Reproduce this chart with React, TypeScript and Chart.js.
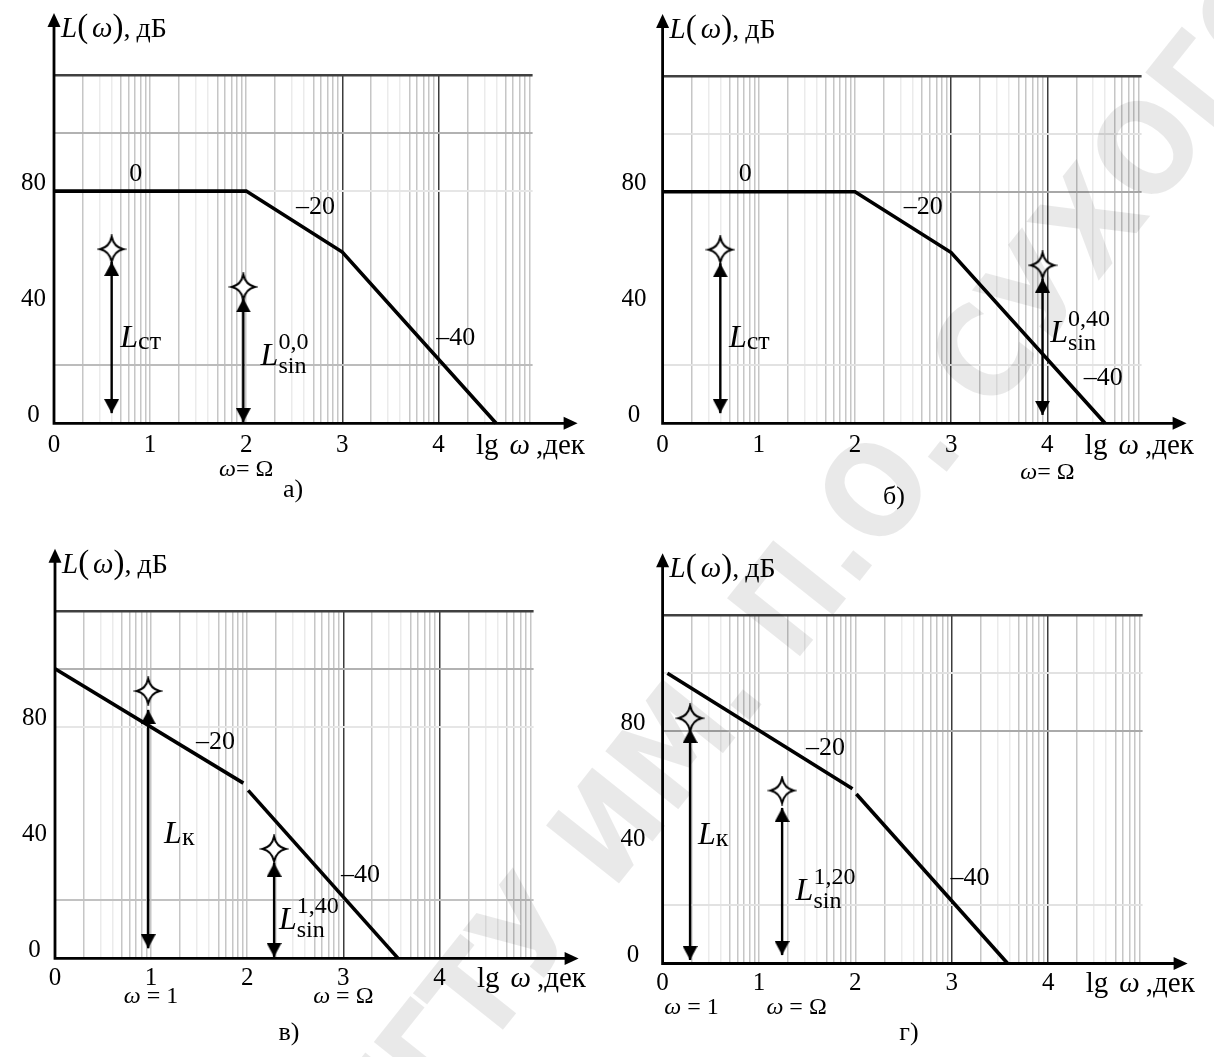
import React, { useEffect, useRef } from "react";
import { Chart, registerables } from "chart.js";

Chart.register(...registerables);

const SERIF = '"Liberation Serif", "Times New Roman", serif';
const SANS = '"DejaVu Sans", "Liberation Sans", sans-serif';

type Pt = { x: number; y: number };
type Arrow = { x: number; from: number; to: number };
type Tag = { x: number; y: number; text: string };
type Name = { x: number; y: number; sub: string; sup?: string };
type Mark = { x: number; rhs: string };

// Axes: lg ω in decades, L(ω) in dB
const decadeTicks = [0, 1, 2, 3, 4];
const levelTicks = [0, 20, 40, 60, 80, 100, 120];
const levelLabels = [0, 40, 80];
const LG_MAX = 4.98;
const DB_MAX = 120;

// а) static system, ω = Ω at lg ω = 2
const curveA: Pt[] = [{ x: 0, y: 80 }, { x: 2, y: 80 }, { x: 3, y: 59 }, { x: 4.6, y: 0 }];
const arrowsA: Arrow[] = [{ x: 0.6, from: 3.5, to: 55.6 }, { x: 1.97, from: 0.4, to: 43 }];
const starsA: Pt[] = [{ x: 0.6, y: 60 }, { x: 1.97, y: 47 }];
const slopesA: Tag[] = [{ x: 0.85, y: 86, text: "0" }, { x: 2.72, y: 74.3, text: "–20" }, { x: 4.18, y: 29.4, text: "–40" }];
const namesA: Name[] = [{ x: 0.69, y: 26.3, sub: "ст" }, { x: 2.15, y: 20.1, sub: "sin", sup: "0,0" }];
const marksA: Mark[] = [{ x: 2, rhs: "Ω" }];

// б) static system, ω = Ω at lg ω = 4
const curveB: Pt[] = [{ x: 0, y: 80 }, { x: 2, y: 80 }, { x: 3, y: 59 }, { x: 4.6, y: 0 }];
const arrowsB: Arrow[] = [{ x: 0.6, from: 3.5, to: 55.3 }, { x: 3.95, from: 2.9, to: 50 }];
const starsB: Pt[] = [{ x: 0.6, y: 60 }, { x: 3.95, y: 54.6 }];
const slopesB: Tag[] = [{ x: 0.86, y: 86, text: "0" }, { x: 2.71, y: 74.7, text: "–20" }, { x: 4.58, y: 15.6, text: "–40" }];
const namesB: Name[] = [{ x: 0.69, y: 26.4, sub: "ст" }, { x: 4.03, y: 28.2, sub: "sin", sup: "0,40" }];
const marksB: Mark[] = [{ x: 4, rhs: "Ω" }];

// в) astatic system, ω = Ω at lg ω = 3
const curveC1: Pt[] = [{ x: 0, y: 100 }, { x: 1.96, y: 60.5 }];
const curveC2: Pt[] = [{ x: 2.01, y: 58 }, { x: 3.57, y: 0 }];
const arrowsC: Arrow[] = [{ x: 0.97, from: 3.5, to: 85.8 }, { x: 2.28, from: 0.5, to: 33 }];
const starsC: Pt[] = [{ x: 0.97, y: 92.3 }, { x: 2.28, y: 37.8 }];
const slopesC: Tag[] = [{ x: 1.67, y: 74.5, text: "–20" }, { x: 3.18, y: 28.9, text: "–40" }];
const namesC: Name[] = [{ x: 1.135, y: 39.7, sub: "к" }, { x: 2.33, y: 10.2, sub: "sin", sup: "1,40" }];
const marksC: Mark[] = [{ x: 1, rhs: "1" }, { x: 3, rhs: "Ω" }];

// г) astatic system, ω = Ω below the first break
const curveD1: Pt[] = [{ x: 0.05, y: 100 }, { x: 1.97, y: 60.2 }];
const curveD2: Pt[] = [{ x: 2.01, y: 58.4 }, { x: 3.58, y: 0 }];
const arrowsD: Arrow[] = [{ x: 0.285, from: 1.2, to: 80.8 }, { x: 1.24, from: 2.9, to: 53.6 }];
const starsD: Pt[] = [{ x: 0.285, y: 84.5 }, { x: 1.24, y: 59.6 }];
const slopesD: Tag[] = [{ x: 1.69, y: 74.3, text: "–20" }, { x: 3.19, y: 29.5, text: "–40" }];
const namesD: Name[] = [{ x: 0.366, y: 41.3, sub: "к" }, { x: 1.38, y: 21.9, sub: "sin", sup: "1,20" }];
const marksD: Mark[] = [{ x: 0.3, rhs: "1" }, { x: 1.39, rhs: "Ω" }];

// log-paper minor lines inside each decade
const gridSteps = [2, 3, 4, 5, 6, 7, 8, 9];
const xGridValues: number[] = [];
decadeTicks.forEach((d) => {
  xGridValues.push(d);
  gridSteps.forEach((k) => {
    const v = d + Math.log10(k);
    if (v < LG_MAX) xGridValues.push(v);
  });
});

type Panel = {
  id: string;
  left: number;
  top: number;
  width: number;
  height: number;
  area: { left: number; right: number; top: number; bottom: number };
  yPad: number;
  yOff: number;
  xLabelGap: number;
  markGap: number;
  tightEq: boolean;
  caption: { text: string; x: number; y: number };
  hGrid: Record<number, string>;
  curves: Pt[][];
  arrows: Arrow[];
  stars: Pt[];
  slopes: Tag[];
  names: Name[];
  marks: Mark[];
};

const X_SCALE_H = 30;
const TICK_SIZE = 25;

const panels: Panel[] = [
  {
    id: "a", left: 0, top: 0, width: 607, height: 520,
    area: { left: 54, right: 532.6, top: 75, bottom: 423.3 },
    yPad: 8, yOff: -8, xLabelGap: 22, markGap: 46, tightEq: true,
    caption: { text: "а)", x: 293, y: 490 },
    hGrid: { 120: "#404040", 100: "#b2b2b2", 80: "#e6e6e6", 20: "#bcbcbc" },
    curves: [curveA], arrows: arrowsA, stars: starsA, slopes: slopesA, names: namesA, marks: marksA,
  },
  {
    id: "b", left: 607, top: 0, width: 607, height: 520,
    area: { left: 55.6, right: 534.6, top: 76, bottom: 423.3 },
    yPad: 16, yOff: -8, xLabelGap: 22, markGap: 49, tightEq: true,
    caption: { text: "б)", x: 287, y: 497 },
    hGrid: { 120: "#404040", 100: "#e2e2e2", 80: "#a8a8a8", 20: "#e2e2e2" },
    curves: [curveB], arrows: arrowsB, stars: starsB, slopes: slopesB, names: namesB, marks: marksB,
  },
  {
    id: "c", left: 0, top: 520, width: 607, height: 537,
    area: { left: 55, right: 533.6, top: 90.8, bottom: 438.4 },
    yPad: 8, yOff: -8, xLabelGap: 20, markGap: 38, tightEq: false,
    caption: { text: "в)", x: 289, y: 513 },
    hGrid: { 120: "#404040", 100: "#b2b2b2", 80: "#e6e6e6", 20: "#c2c2c2" },
    curves: [curveC1, curveC2], arrows: arrowsC, stars: starsC, slopes: slopesC, names: namesC, marks: marksC,
  },
  {
    id: "d", left: 607, top: 520, width: 607, height: 537,
    area: { left: 55.6, right: 535.6, top: 95.2, bottom: 443.5 },
    yPad: 17, yOff: -8, xLabelGap: 20, markGap: 44, tightEq: false,
    caption: { text: "г)", x: 302, y: 513 },
    hGrid: { 120: "#404040", 100: "#e2e2e2", 80: "#aaaaaa", 20: "#e2e2e2" },
    curves: [curveD1, curveD2], arrows: arrowsD, stars: starsD, slopes: slopesD, names: namesD, marks: marksD,
  },
];

// arrow head image: tip sits in the centre of the canvas, pointing up
function makeArrowHead(): HTMLCanvasElement {
  const w = 15, h = 14;
  const c = document.createElement("canvas");
  c.width = w;
  c.height = h * 2;
  const g = c.getContext("2d")!;
  g.fillStyle = "#000";
  g.beginPath();
  g.moveTo(w / 2, h);
  g.lineTo(w, 2 * h);
  g.lineTo(0, 2 * h);
  g.closePath();
  g.fill();
  return c;
}

// four-pointed star marker with concave sides
function makeStar(): HTMLCanvasElement {
  const s = 30;
  const c = document.createElement("canvas");
  c.width = s;
  c.height = s;
  const g = c.getContext("2d")!;
  const cx = s / 2, cy = s / 2, R = 12.5, k = 2.2;
  g.beginPath();
  g.moveTo(cx, cy - R);
  g.quadraticCurveTo(cx + k, cy - k, cx + R - 1, cy);
  g.quadraticCurveTo(cx + k, cy + k, cx, cy + R);
  g.quadraticCurveTo(cx - k, cy + k, cx - R + 1, cy);
  g.quadraticCurveTo(cx - k, cy - k, cx, cy - R);
  g.closePath();
  g.fillStyle = "#fff";
  g.fill();
  g.lineWidth = 2;
  g.strokeStyle = "#000";
  g.stroke();
  return c;
}

function head(ctx: CanvasRenderingContext2D, x: number, y: number, dx: number, dy: number, len = 14, half = 6.5) {
  const bx = x - dx * len, by = y - dy * len;
  ctx.beginPath();
  ctx.moveTo(x, y);
  ctx.lineTo(bx - dy * half, by + dx * half);
  ctx.lineTo(bx + dy * half, by - dx * half);
  ctx.closePath();
  ctx.fill();
}

function runText(ctx: CanvasRenderingContext2D, x: number, y: number, parts: [string, string, number?][]) {
  let cx = x;
  parts.forEach(([t, f, gap]) => {
    ctx.font = f;
    ctx.fillText(t, cx, y);
    cx += ctx.measureText(t).width + (gap || 0);
  });
  return cx;
}

function widthOf(ctx: CanvasRenderingContext2D, parts: [string, string, number?][]) {
  let w = 0;
  parts.forEach(([t, f, gap]) => {
    ctx.font = f;
    w += ctx.measureText(t).width + (gap || 0);
  });
  return w;
}

function decorPlugin(p: Panel) {
  return {
    id: "decor-" + p.id,
    afterDraw(chart: Chart) {
      const ctx = chart.ctx;
      const xs = chart.scales.x;
      const ys = chart.scales.y;
      const X = (v: number) => xs.getPixelForValue(v);
      const Y = (v: number) => ys.getPixelForValue(v);
      const ox = X(0), oy = Y(0), top = Y(DB_MAX), right = X(LG_MAX);
      const yTip = top - 62, xTip = right + 45;

      ctx.save();
      ctx.fillStyle = "#000";
      ctx.strokeStyle = "#000";

      // axes with arrow heads
      ctx.lineWidth = 2.8;
      ctx.beginPath();
      ctx.moveTo(ox, oy + 1.4);
      ctx.lineTo(ox, yTip + 10);
      ctx.moveTo(ox - 1.4, oy);
      ctx.lineTo(xTip - 10, oy);
      ctx.stroke();
      head(ctx, ox, yTip, 0, -1);
      head(ctx, xTip, oy, 1, 0);

      // y axis title
      ctx.textAlign = "left";
      ctx.textBaseline = "alphabetic";
      runText(ctx, ox + 7, top - 38, [
        ["L", `italic 29px ${SERIF}`],
        ["(", `33px ${SERIF}`, 4],
        ["ω", `italic 29px ${SERIF}`],
        [")", `33px ${SERIF}`],
        [",", `28px ${SERIF}`, 6],
        ["дБ", `28px ${SERIF}`],
      ]);

      // x axis title
      ctx.textBaseline = "middle";
      runText(ctx, X(4.39), oy + p.xLabelGap + 1, [
        ["lg", `29px ${SERIF}`, 11],
        ["ω", `italic 29px ${SERIF}`, 6],
        [",дек", `29px ${SERIF}`],
      ]);

      // slope tags
      ctx.textAlign = "center";
      ctx.font = `26px ${SERIF}`;
      p.slopes.forEach((s) => ctx.fillText(s.text, X(s.x), Y(s.y)));

      // L labels with indices
      ctx.textAlign = "left";
      ctx.textBaseline = "alphabetic";
      p.names.forEach((n) => {
        const lx = X(n.x), ly = Y(n.y);
        ctx.font = `italic 32px ${SERIF}`;
        ctx.fillText("L", lx, ly);
        const lw = ctx.measureText("L").width;
        if (n.sup) {
          ctx.font = `24px ${SERIF}`;
          ctx.fillText(n.sup, lx + lw, ly - 16);
          ctx.fillText(n.sub, lx + lw, ly + 8);
        } else {
          ctx.font = `26px ${SERIF}`;
          ctx.fillText(n.sub, lx + lw, ly + 2);
        }
      });

      // ω marks below the axis
      ctx.textBaseline = "middle";
      p.marks.forEach((m) => {
        const parts: [string, string, number?][] = [
          ["ω", `italic 24px ${SERIF}`],
          [(p.tightEq ? "= " : " = ") + m.rhs, `24px ${SERIF}`],
        ];
        const w = widthOf(ctx, parts);
        runText(ctx, X(m.x) - w / 2, oy + p.markGap, parts);
      });

      // caption
      ctx.textAlign = "center";
      ctx.font = `26px ${SERIF}`;
      ctx.fillText(p.caption.text, p.caption.x, p.caption.y);

      ctx.restore();
    },
  };
}

function buildConfig(p: Panel): any {
  const arrowImg = makeArrowHead();
  const starImg = makeStar();
  const datasets: any[] = [];
  datasets.push({
    data: p.stars,
    showLine: false,
    pointStyle: starImg,
    pointRadius: 12,
    clip: false,
  });
  p.arrows.forEach((a) =>
    datasets.push({
      data: [{ x: a.x, y: a.from }, { x: a.x, y: a.to }],
      borderColor: "#000",
      borderWidth: 2.4,
      pointStyle: arrowImg,
      pointRadius: 8,
      pointRotation: [180, 0],
      clip: false,
    })
  );
  p.curves.forEach((c) =>
    datasets.push({
      data: c,
      borderColor: "#000",
      borderWidth: 3.6,
      borderCapStyle: "butt",
      pointRadius: 0,
      clip: false,
    })
  );

  const tickFont = { family: SERIF, size: TICK_SIZE };

  return {
    type: "line",
    data: { datasets },
    options: {
      responsive: false,
      animation: false,
      events: [],
      layout: {
        padding: {
          left: 0,
          top: p.area.top,
          right: p.width - p.area.right,
          bottom: p.height - p.area.bottom - X_SCALE_H,
        },
      },
      elements: { line: { tension: 0 } },
      plugins: { legend: { display: false }, tooltip: { enabled: false } },
      scales: {
        x: {
          type: "linear",
          min: 0,
          max: LG_MAX,
          afterBuildTicks: (s: any) => {
            s.ticks = xGridValues.map((v) => ({ value: v }));
          },
          afterFit: (s: any) => {
            s.height = X_SCALE_H;
          },
          border: { display: false },
          grid: {
            drawTicks: false,
            lineWidth: 1.5,
            color: (ctx: any) => {
              const v = ctx.tick ? ctx.tick.value : 0;
              if (v === 0) return "rgba(0,0,0,0)";
              if (v === 3 || v === 4) return "#3c3c3c";
              const k = Math.round(Math.pow(10, v - Math.floor(v)));
              if (k === 3 || k === 4) return "#ebebeb";
              return "#c6c6c6";
            },
          },
          ticks: {
            autoSkip: false,
            maxRotation: 0,
            minRotation: 0,
            padding: p.xLabelGap - TICK_SIZE * 0.6,
            color: "#000",
            font: tickFont,
            callback: (v: number) => (decadeTicks.includes(v) ? String(v) : ""),
          },
        },
        y: {
          type: "linear",
          min: 0,
          max: DB_MAX,
          afterBuildTicks: (s: any) => {
            s.ticks = levelTicks.map((v) => ({ value: v }));
          },
          afterFit: (s: any) => {
            s.width = p.area.left;
          },
          border: { display: false },
          grid: {
            drawTicks: false,
            lineWidth: (ctx: any) => (ctx.tick && ctx.tick.value === DB_MAX ? 2.6 : 2),
            color: (ctx: any) => (ctx.tick && p.hGrid[ctx.tick.value]) || "rgba(0,0,0,0)",
          },
          ticks: {
            autoSkip: false,
            crossAlign: "center",
            padding: p.yPad,
            labelOffset: p.yOff,
            color: "#000",
            font: tickFont,
            callback: (v: number) => (levelLabels.includes(v) ? String(v) : ""),
          },
        },
      },
    },
    plugins: [decorPlugin(p)],
  };
}

function PanelChart({ spec }: { spec: Panel }) {
  const ref = useRef<HTMLCanvasElement>(null);
  useEffect(() => {
    const chart = new Chart(ref.current!, buildConfig(spec));
    return () => chart.destroy();
  }, [spec]);
  return (
    <canvas
      ref={ref}
      width={spec.width}
      height={spec.height}
      style={{ position: "absolute", left: spec.left, top: spec.top, width: spec.width, height: spec.height }}
    />
  );
}

// publisher's diagonal watermark over the page
function Watermark() {
  const ref = useRef<HTMLCanvasElement>(null);
  useEffect(() => {
    const c = ref.current!;
    const g = c.getContext("2d")!;
    g.clearRect(0, 0, c.width, c.height);
    g.save();
    g.translate(830, 565);
    g.rotate((-51.5 * Math.PI) / 180);
    g.font = `bold 128px ${SANS}`;
    g.textAlign = "center";
    g.textBaseline = "middle";
    const text = "ГГТУ ИМ. П.О. СУХОГО";
    const w = g.measureText(text).width;
    g.scale(1480 / w, 1);
    g.fillStyle = "rgba(0,0,0,0.085)";
    g.fillText(text, 0, 0);
    g.restore();
  }, []);
  return (
    <canvas
      ref={ref}
      width={1214}
      height={1057}
      style={{ position: "absolute", left: 0, top: 0, width: 1214, height: 1057, pointerEvents: "none" }}
    />
  );
}

export default function App() {
  return (
    <div
      style={{
        position: "absolute",
        left: 0,
        top: 0,
        width: 1214,
        height: 1057,
        background: "#fff",
        overflow: "hidden",
      }}
    >
      {panels.map((p) => (
        <PanelChart key={p.id} spec={p} />
      ))}
      <Watermark />
    </div>
  );
}
